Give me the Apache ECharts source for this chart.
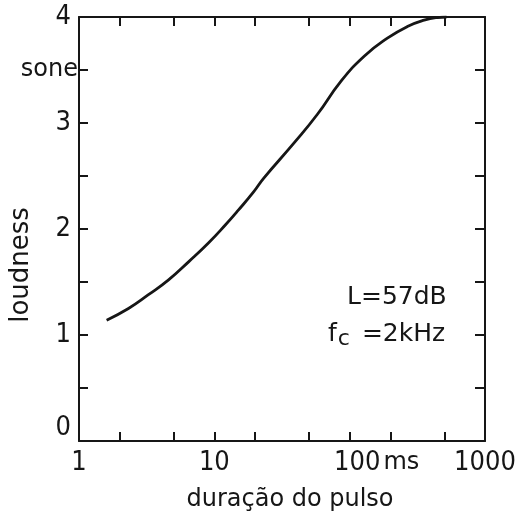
<!DOCTYPE html>
<html>
<head>
<meta charset="utf-8">
<script src="https://cdn.jsdelivr.net/npm/echarts@6/dist/echarts.min.js"></script>
<style>html,body{margin:0;padding:0;background:#fff}#c{width:515px;height:519px}</style>
</head>
<body>
<div id="c"></div>
<script>
// pulse duration (ms) and loudness (sone)
var durations = [1.6, 2.32, 3.26, 4.59, 6.45, 9.08, 12.1, 15.1, 19.5, 23.2, 38.7, 57.6, 85.8, 128, 190, 267, 355, 446, 520];
var loudness  = [1.14, 1.25, 1.38, 1.52, 1.69, 1.87, 2.04, 2.18, 2.35, 2.48, 2.81, 3.08, 3.39, 3.63, 3.80, 3.91, 3.97, 3.995, 4.0];
var xTicks = [2, 5, 10, 20, 50, 100, 200, 500];
var xLabels = [1, 10, 100, 1000];
var yTicks = [0.5, 1, 1.5, 2, 2.5, 3, 3.5];
var yLabels = [0, 1, 2, 3, 3.5, 4];

var data = durations.map(function (d, i) { return [d, loudness[i]]; });
var FONT = 'DejaVu Sans';
var NUM = '"Liberation Sans Narrow", "DejaVu Sans Condensed", sans-serif';
var ink = '#161616';
var axisLine = { show: true, onZero: false, lineStyle: { color: ink, width: 2 } };
var tick = { show: true, inside: true, length: 9, customValues: xTicks, lineStyle: { color: ink, width: 2 } };

var chart = echarts.init(document.getElementById('c'), null, { renderer: 'canvas' });
chart.setOption({
  backgroundColor: '#fff',
  animation: false,
  grid: { left: 79, right: 30, top: 17, bottom: 78, containLabel: false, outerBoundsMode: 'none' },
  xAxis: [{
    type: 'log', logBase: 10, min: 1, max: 1000, position: 'bottom',
    axisLine: axisLine, axisTick: tick, splitLine: { show: false }, minorTick: { show: false },
    axisLabel: {
      customValues: xLabels, margin: 8, color: ink, fontFamily: NUM, fontSize: 27,
      formatter: function (v) { return v === 100 ? '{d|100}{u|ms}' : String(v); },
      rich: {
        d: { fontFamily: NUM, fontSize: 27, color: ink, padding: [0, 3, 0, 54] },
        u: { fontFamily: FONT, fontSize: 24, color: ink }
      }
    },
    name: 'duração do pulso', nameLocation: 'middle', nameGap: 47,
    nameTextStyle: { fontFamily: FONT, fontSize: 24, color: ink, padding: [0, 0, 0, 16] }
  }, {
    type: 'log', logBase: 10, min: 1, max: 1000, position: 'top',
    axisLine: axisLine, axisTick: tick, axisLabel: { show: false }, splitLine: { show: false }
  }],
  yAxis: [{
    type: 'value', min: 0, max: 4, position: 'left',
    axisLine: axisLine,
    axisTick: { show: true, inside: true, length: 9, customValues: yTicks, lineStyle: { color: ink, width: 2 } },
    splitLine: { show: false },
    axisLabel: {
      customValues: yLabels, margin: 1, color: ink, fontFamily: NUM, fontSize: 27,
      formatter: function (v) {
        if (v === 3.5) return '{s|sone}';
        if (v === 0) return '{z|0}';
        return '{n|' + v + '}';
      },
      rich: {
        s: { fontFamily: FONT, fontSize: 24, color: ink },
        n: { fontFamily: NUM, fontSize: 27, color: ink, padding: [0, 7, 0, 0] },
        z: { fontFamily: NUM, fontSize: 27, color: ink, padding: [0, 7, 26, 0] }
      }
    }
  }, {
    type: 'value', min: 0, max: 4, position: 'right',
    axisLine: axisLine,
    axisTick: { show: true, inside: true, length: 10, customValues: yTicks, lineStyle: { color: ink, width: 2 } },
    axisLabel: { show: false }, splitLine: { show: false }
  }],
  graphic: [
    { type: 'text', x: 21, y: 265, rotation: Math.PI / 2,
      style: { text: 'loudness', font: '26px "DejaVu Sans"', fill: ink, align: 'center', verticalAlign: 'middle' } },
    { type: 'text', left: 347, top: 285, style: { text: 'L=57dB', font: '25px "DejaVu Sans"', fill: ink } },
    { type: 'text', left: 328, top: 322, style: {
      text: '{f|f}{c|c}{n|=2kHz}',
      rich: {
        f: { font: '25px "DejaVu Sans"', fill: ink },
        c: { font: '22px "DejaVu Sans"', fill: ink, padding: [9, 0, 0, 1] },
        n: { font: '25px "DejaVu Sans"', fill: ink, padding: [0, 0, 0, 12] }
      }
    } }
  ],
  series: [{
    type: 'line', data: data, smooth: true, showSymbol: false,
    lineStyle: { color: ink, width: 2.8 }
  }]
});
</script>
</body>
</html>
